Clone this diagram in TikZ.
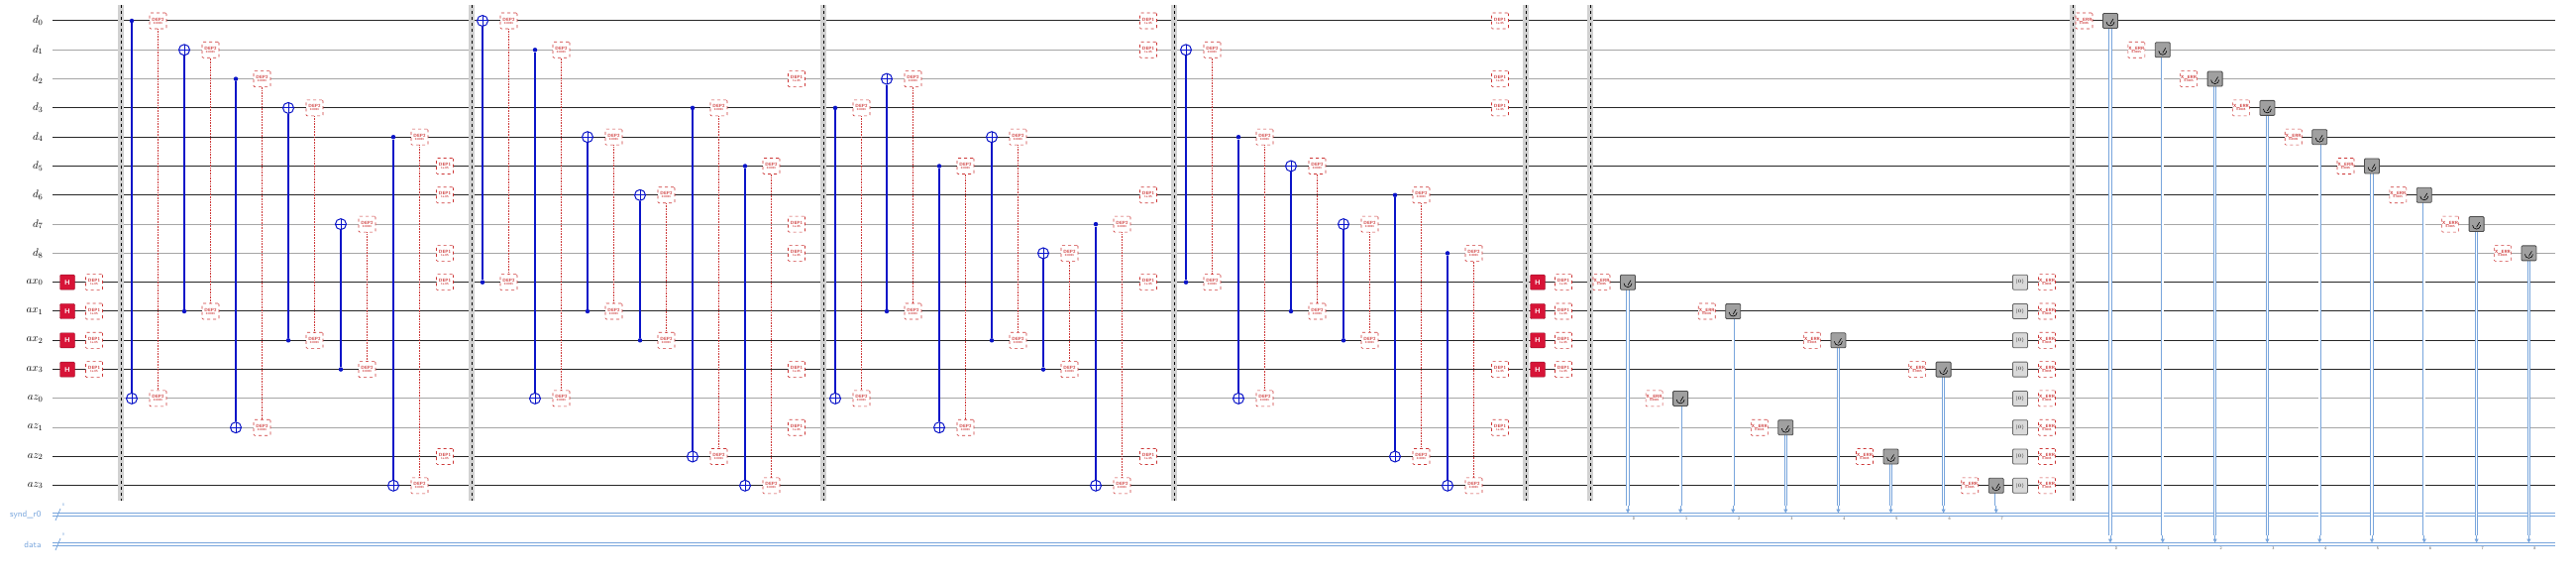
\documentclass[tikz,border=0pt]{standalone}
\usepackage{tikz}
\usetikzlibrary{arrows.meta,positioning}
\definecolor{cxblue}{RGB}{10,20,200}
\definecolor{noisered}{RGB}{205,55,55}
\definecolor{hred}{RGB}{215,20,55}
\definecolor{clblue}{RGB}{120,165,220}
\definecolor{measgray}{RGB}{160,160,160}
\tikzset{%
  qwire/.style={line width=1pt,black!85},
  qwireg/.style={line width=1pt,black!35},
  ctrl/.style={circle,fill=cxblue,inner sep=0pt,minimum size=4.5pt},
  targ/.style={circle,draw=cxblue,line width=1pt,fill=white,inner sep=0pt,minimum size=11pt,
    path picture={\draw[cxblue,line width=1pt] (path picture bounding box.north)--(path picture bounding box.south)
      (path picture bounding box.west)--(path picture bounding box.east);}},
  cxline/.style={cxblue,line width=1.2pt},
  noise/.style={draw=noisered,dashed,fill=white,line width=0.6pt,minimum width=17pt,minimum height=16pt,
    inner sep=0pt,align=center,text=noisered,font=\fontsize{4.5}{4}\selectfont\sffamily\bfseries,rounded corners=1pt},
  noiseline/.style={noisered,densely dotted,line width=0.6pt},
  hgate/.style={fill=hred,draw=hred!70!black,minimum size=15pt,inner sep=0pt,text=white,
    font=\sffamily\bfseries\fontsize{7}{7}\selectfont,rounded corners=1pt},
  meas/.style={fill=measgray,draw=black!70,line width=0.8pt,minimum size=15pt,inner sep=0pt,rounded corners=1pt,
    path picture={\draw[black,line width=0.6pt] ([shift={(-4pt,-1pt)}]path picture bounding box.center)
      arc[start angle=180,end angle=360,radius=4pt];
      \draw[black,line width=0.6pt] ([yshift=-3pt]path picture bounding box.center) -- ++(3pt,5pt);}},
  rst/.style={fill=black!15,draw=black!60,line width=0.8pt,minimum size=15pt,inner sep=0pt,rounded corners=1pt,
    font=\fontsize{5}{5}\selectfont},
  clwire/.style={clblue,double=white,double distance=1.6pt,line width=0.8pt},
  clarrow/.style={clblue,line width=0.8pt,-{Triangle[width=4pt,length=4pt]}},
  bitlbl/.style={font=\fontsize{4}{4}\selectfont\sffamily,text=black!70},
  wlbl/.style={anchor=east,font=\fontsize{11}{11}\selectfont},
  cllbl/.style={anchor=east,font=\fontsize{9}{9}\selectfont\sffamily,text=clblue},
}
\newcommand{\cnot}[4]{% name, x, control row, target row
  \node[ctrl] (#1c) at (#2,{21+29.3*#3}) {};
  \node[targ] (#1t) at (#2,{21+29.3*#4}) {};
  \draw[cxline] (#1c) -- (#1t);}
\newcommand{\deptwo}[4]{% name, x, row, row
  \pgfmathtruncatemacro{\ra}{min(#3,#4)}\pgfmathtruncatemacro{\rb}{max(#3,#4)}
  \node[noise] (#1a) at (#2,{21+29.3*\ra}) {DEP2\\[-1pt]{\fontsize{3}{3}\selectfont 0.0001}};
  \node[noise] (#1b) at (#2,{21+29.3*\rb}) {DEP2\\[-1pt]{\fontsize{3}{3}\selectfont 0.0001}};
  \draw[noiseline] (#1a) -- (#1b);}
\newcommand{\depone}[2]{% x, row
  \node[noise] at (#1,{21+29.3*#2}) {DEP1\\[-1pt]{\fontsize{3}{3}\selectfont 1e-05}};}
\newcommand{\xerr}[2]{% x, row
  \node[noise] at (#1,{21+29.3*#2}) {X\_ERR\\[-1pt]{\fontsize{3}{3}\selectfont 0.0005}};}
\newcommand{\barr}[1]{%
  \fill[black!18] (#1-3,5) rectangle (#1+3,505);
  \draw[black,dashed,line width=0.9pt] (#1,5) -- (#1,505);}

\begin{document}
\begin{tikzpicture}[x=1pt,y=-1pt]
\useasboundingbox (0,0) rectangle (2600,585);
% quantum wires
\foreach \lbl [count=\r from 0] in {d_{0},d_{1},d_{2},d_{3},d_{4},d_{5},d_{6},d_{7},d_{8},
    ax_{0},ax_{1},ax_{2},ax_{3},az_{0},az_{1},az_{2},az_{3}} {
  \node[wlbl] (l\r) at (47,{21+29.3*\r}) {$\lbl$};
  \coordinate (e\r) at (2579,{21+29.3*\r});
}
\foreach \r in {0,3,4,5,6,9,10,11,12,15,16} \draw[qwire] (53,{21+29.3*\r}) -- (e\r);
\foreach \r in {1,2,7,8,13,14} \draw[qwireg] (53,{21+29.3*\r}) -- (e\r);
% classical wires
\node[cllbl] (lsynd) at (45,519) {synd\_r0};
\node[cllbl] (ldata) at (45,549) {data};
\coordinate (esynd) at (2579,519);
\coordinate (edata) at (2579,549);
\draw[clwire] (53,519) -- (esynd);
\draw[clwire] (53,549) -- (edata);
\draw[clblue,line width=0.8pt] (56,525) -- (61,513) (56,555) -- (61,543);
\node[bitlbl,text=clblue] at (64,509) {8};
\node[bitlbl,text=clblue] at (64,539) {9};
% barriers
\foreach \x in {122,476,831,1185,1540,1605,2092} {\barr{\x}}
% ancilla preparation
\foreach \r in {9,10,11,12} {
  \node[hgate] (ha\r) at (68,{21+29.3*\r}) {H};
  \depone{95}{\r}
  \node[hgate] (hb\r) at (1552,{21+29.3*\r}) {H};
  \depone{1578}{\r}
}
% stabiliser rounds
\foreach \x/\c/\t [count=\i] in {133/0/13,186/10/1,238/2/14,291/11/3,344/12/7,397/4/16,
    487/9/0,540/1/13,593/10/4,646/11/6,699/3/15,752/5/16,
    843/3/13,895/10/2,948/5/14,1001/11/4,1053/12/8,1106/7/16,
    1197/9/1,1250/4/13,1303/10/5,1356/11/7,1408/6/15,1461/8/16} {
  \cnot{g\i}{\x}{\c}{\t}
  \deptwo{n\i}{\x+26.5}{\c}{\t}
}
\foreach \r in {5,6,8,9,15} {\depone{449}{\r}}
\foreach \r in {2,7,8,12,14} {\depone{804}{\r}}
\foreach \r in {0,1,6,9,15} {\depone{1159}{\r}}
\foreach \r in {0,2,3,12,14} {\depone{1514}{\r}}
% ancilla measurement
\foreach \r [count=\k from 0] in {9,13,10,14,11,15,12,16} {
  \pgfmathsetmacro{\mx}{1643+53.1*\k}
  \xerr{\mx-26.5}{\r}
  \coordinate (sa\k) at (\mx,510);
  \coordinate (sb\k) at (\mx,517.5);
  \draw[clwire] (\mx,{21+29.3*\r}) -- (sa\k);
  \draw[clarrow] (sa\k) -- (sb\k);
  \node[meas] (s\k) at (\mx,{21+29.3*\r}) {};
  \node[bitlbl] at (\mx+6,523) {\k};
  \node[rst] (z\r) at (2039,{21+29.3*\r}) {$|0\rangle$};
  \xerr{2066}{\r}
}
% data measurement
\foreach \r in {0,...,8} {
  \pgfmathsetmacro{\mx}{2130+52.8*\r}
  \xerr{\mx-26.5}{\r}
  \coordinate (da\r) at (\mx,540);
  \coordinate (db\r) at (\mx,547.5);
  \draw[clwire] (\mx,{21+29.3*\r}) -- (da\r);
  \draw[clarrow] (da\r) -- (db\r);
  \node[meas] (m\r) at (\mx,{21+29.3*\r}) {};
  \node[bitlbl] at (\mx+6,553) {\r};
}
\end{tikzpicture}
\end{document}
